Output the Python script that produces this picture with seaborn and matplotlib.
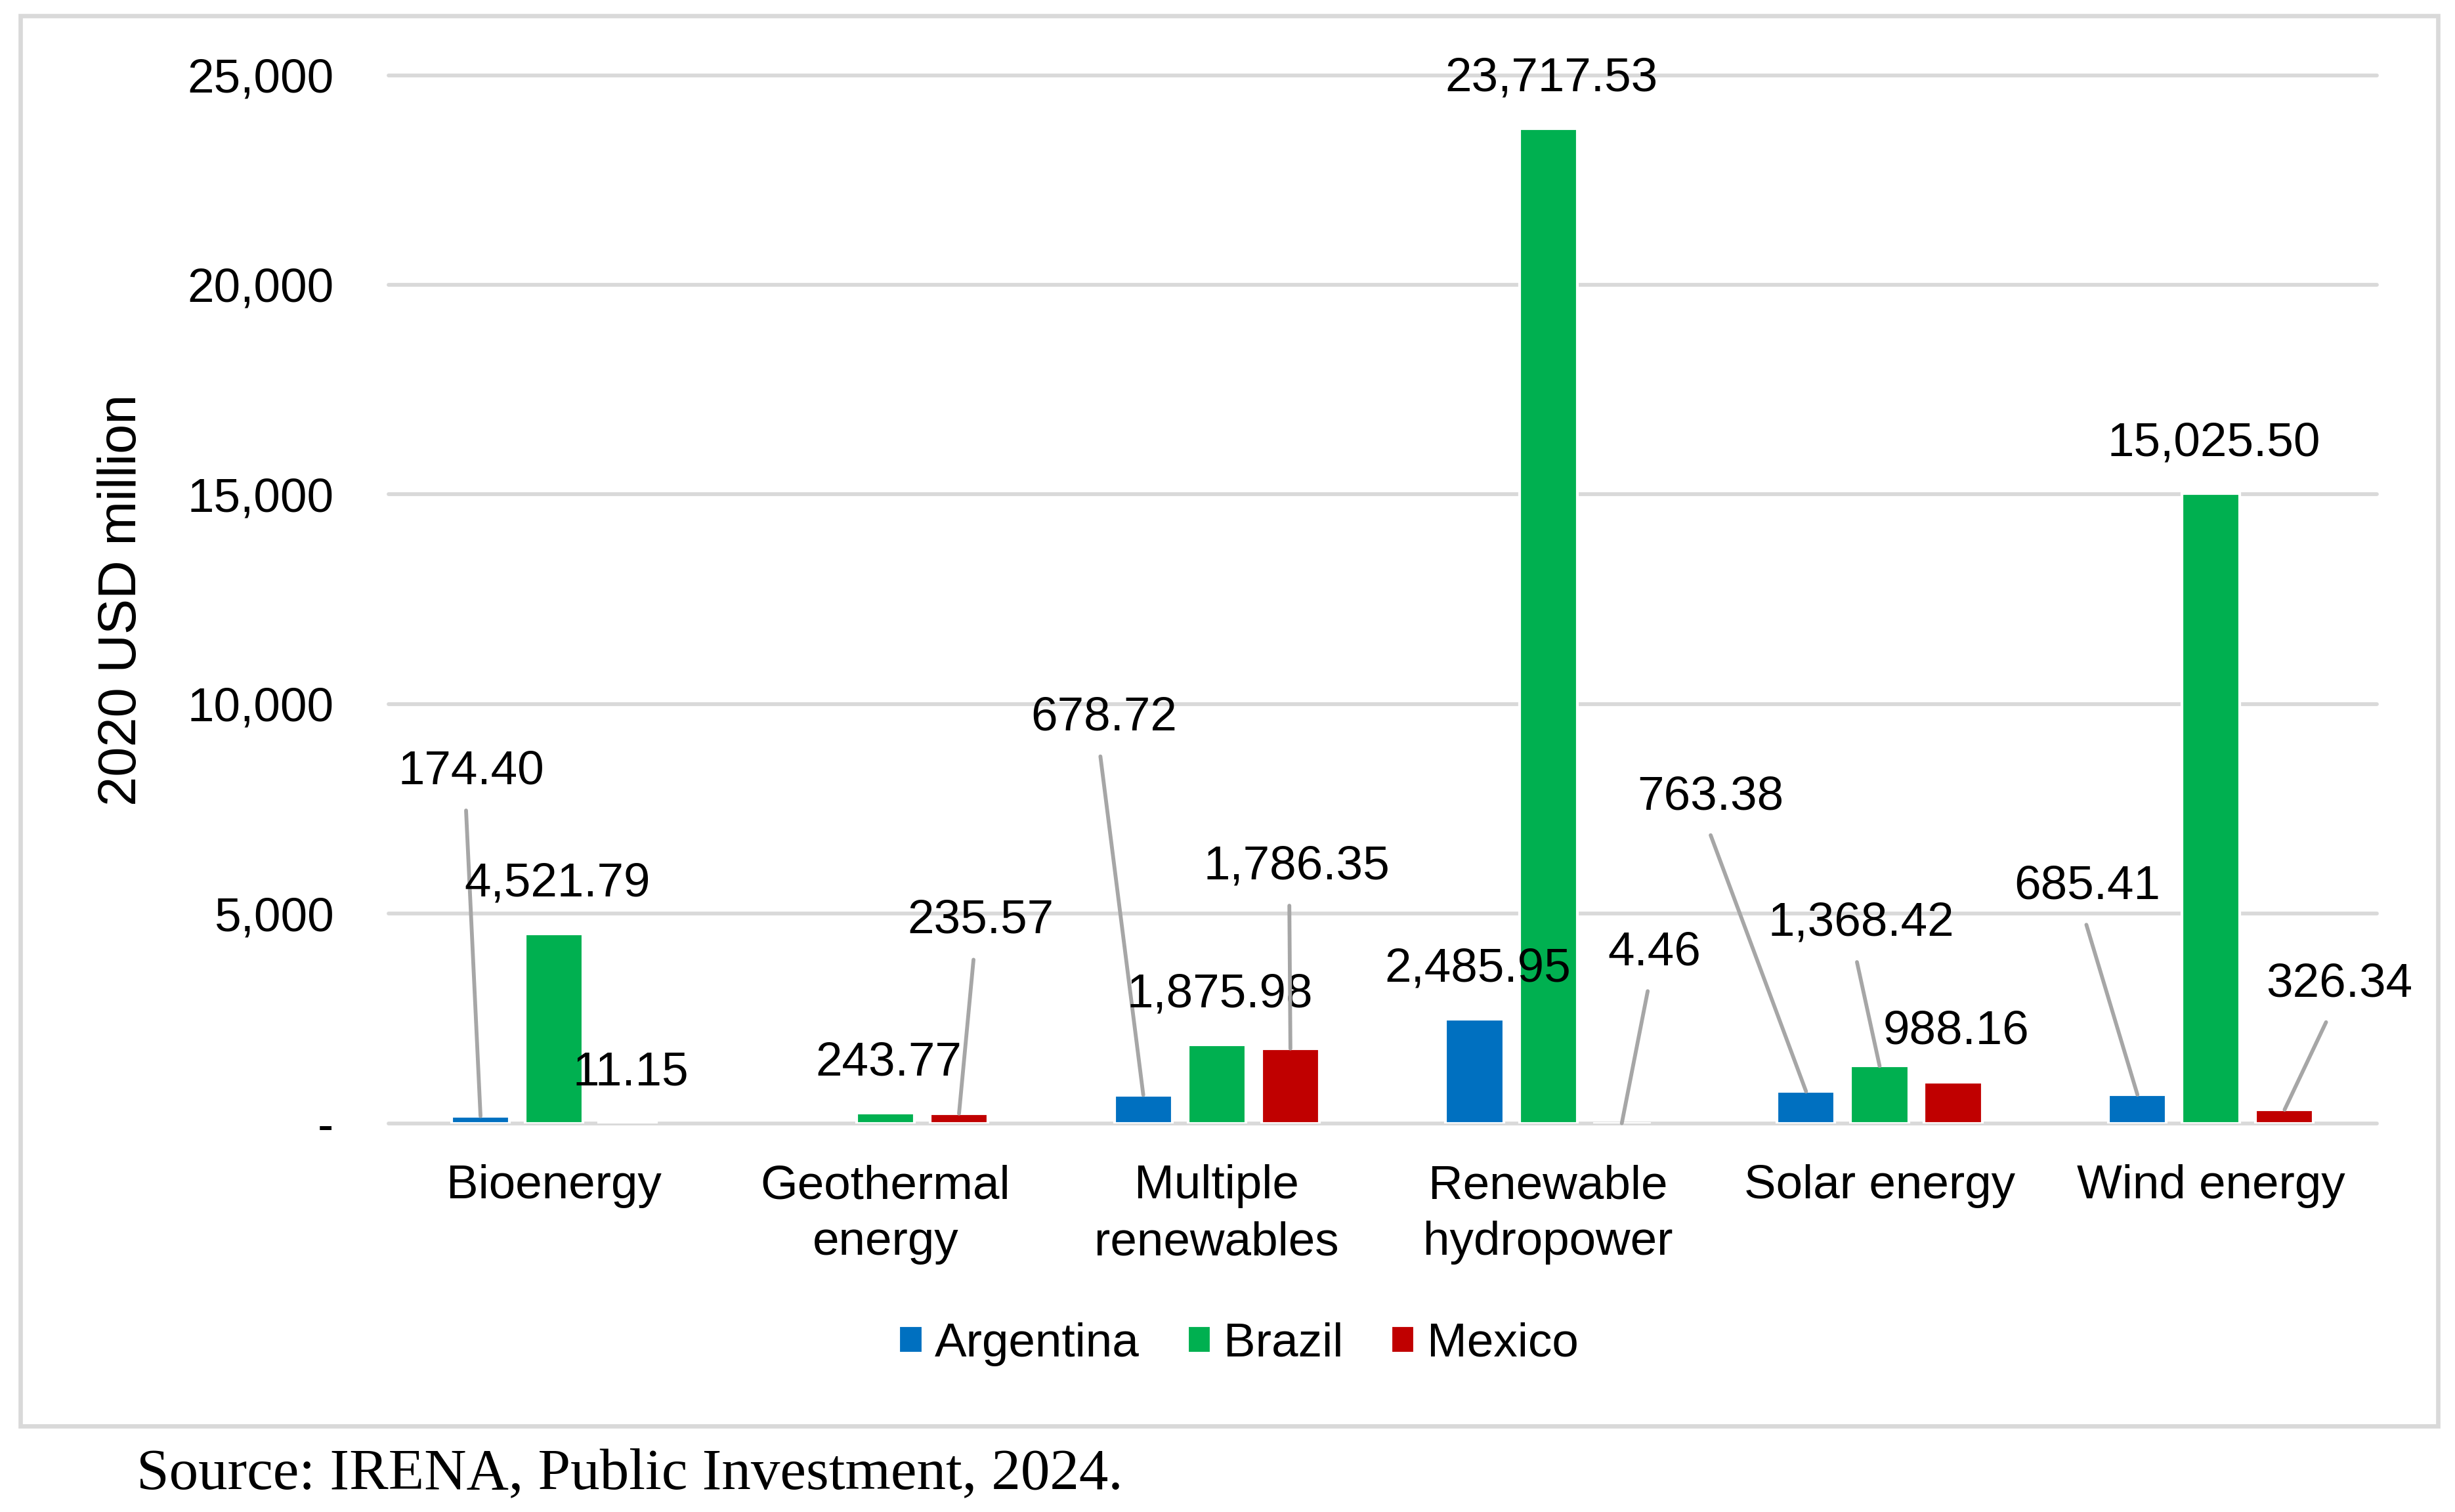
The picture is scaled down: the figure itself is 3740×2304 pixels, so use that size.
import matplotlib
matplotlib.use("Agg")
import matplotlib.pyplot as plt
import matplotlib.patches as mpatches
import seaborn as sns
import pandas as pd

categories = ["Bioenergy", "Geothermal\nenergy", "Multiple\nrenewables",
              "Renewable\nhydropower", "Solar energy", "Wind energy"]
countries = ["Argentina", "Brazil", "Mexico"]
argentina = [174.40, None, 678.72, 2485.95, 763.38, 685.41]
brazil = [4521.79, 243.77, 1875.98, 23717.53, 1368.42, 15025.50]
mexico = [11.15, 235.57, 1786.35, 4.46, 988.16, 326.34]
yticks = [0, 5000, 10000, 15000, 20000, 25000]
ytick_labels = ["-", "5,000", "10,000", "15,000", "20,000", "25,000"]

colors = {"Argentina": "#0070C0", "Brazil": "#00B050", "Mexico": "#C00000"}

rows = []
for country, vals in zip(countries, [argentina, brazil, mexico]):
    for cat, v in zip(categories, vals):
        if v is not None:
            rows.append({"category": cat, "country": country, "value": v})
df = pd.DataFrame(rows)

# label offsets from bar top (screen px of a 1568 wide view); True = leader line
label_pos = {
    ("Argentina", 0): (-6, 220, True),
    ("Mexico", 1): (14, 123, True),
    ("Argentina", 2): (-25, 241, True),
    ("Mexico", 2): (4, 116, True),
    ("Mexico", 3): (21, 109, True),
    ("Argentina", 4): (-61, 188, True),
    ("Brazil", 4): (-12, 91, True),
    ("Argentina", 5): (-32, 133, True),
    ("Mexico", 5): (35, 80, True),
}
default_pos = (2, 32, False)

sns.set_style("white")
plt.rcParams["font.family"] = ["Liberation Sans", "DejaVu Sans"]
plt.rcParams["text.color"] = "black"
plt.rcParams["xtick.color"] = "black"
plt.rcParams["ytick.color"] = "black"
fs = 17.5

fig = plt.figure(figsize=(12.4667, 7.68), dpi=300)
ax = fig.add_axes([0.1582, 0.2570, 0.8099, 0.6933])

sns.barplot(data=df, x="category", y="value", hue="country", order=categories,
            hue_order=countries, palette=colors, width=0.666, gap=0.213,
            saturation=1, errorbar=None, ax=ax)

ax.set_xlim(-0.5, len(categories) - 0.5)
ax.set_ylim(0, 25000)
ax.set_yticks(yticks)
ax.set_yticklabels(ytick_labels)
ax.set_xlabel("")
ax.set_ylabel("")
ax.tick_params(axis="y", length=0, pad=20, labelsize=fs)
ax.tick_params(axis="x", length=0, pad=15, labelsize=fs)
for t in ax.get_xticklabels():
    t.set_linespacing(1.36)
ax.yaxis.grid(True, color="#D9D9D9", lw=1.4)
ax.set_axisbelow(True)
for line in ax.get_ygridlines():
    line.set_clip_on(False)
sns.despine(ax=ax, left=True, bottom=True)

k = 2.385 / 300 * 72
for country, cont in zip(countries, ax.containers):
    for bar in cont:
        xc = bar.get_x() + bar.get_width() / 2
        h = bar.get_height()
        if pd.isna(h):
            continue
        ci = int(round(xc))
        dx, dy, leader = label_pos.get((country, ci), default_pos)
        txt = f"{h:,.2f}"
        if leader:
            ax.annotate(txt, xy=(xc, h), xytext=(dx * k, dy * k),
                        textcoords="offset points", ha="center", va="center",
                        fontsize=fs, annotation_clip=False,
                        arrowprops=dict(arrowstyle="-", color="#A6A6A6", lw=1.4,
                                        shrinkA=4, shrinkB=0, relpos=(0.46, 0)))
        else:
            ax.annotate(txt, xy=(xc, h), xytext=(dx * k, dy * k),
                        textcoords="offset points", ha="center", va="center",
                        fontsize=fs, annotation_clip=False)

sns.move_legend(ax, "center", bbox_to_anchor=(0.5045, 0.111),
                bbox_transform=fig.transFigure, ncol=3, title=None,
                frameon=False, fontsize=fs, handlelength=0.5, handleheight=0.5,
                handletextpad=0.25, columnspacing=1.0)

fig.text(78 / 1568, 1 - 383 / 965, "2020 USD million", rotation=90,
         ha="center", va="center", fontsize=19.5)
fig.text(87 / 1568, 1 - 941 / 965, "Source: IRENA, Public Investment, 2024.",
         ha="left", va="center", fontsize=21.4, family=["Liberation Serif", "DejaVu Serif"])

fig.patches.append(mpatches.Rectangle((13 / 1568, 1 - 910 / 965), (1557 - 13) / 1568,
                                      (910 - 10) / 965, transform=fig.transFigure,
                                      fill=False, edgecolor="#D9D9D9", lw=1.6))

fig.savefig("out.png", dpi=300)
